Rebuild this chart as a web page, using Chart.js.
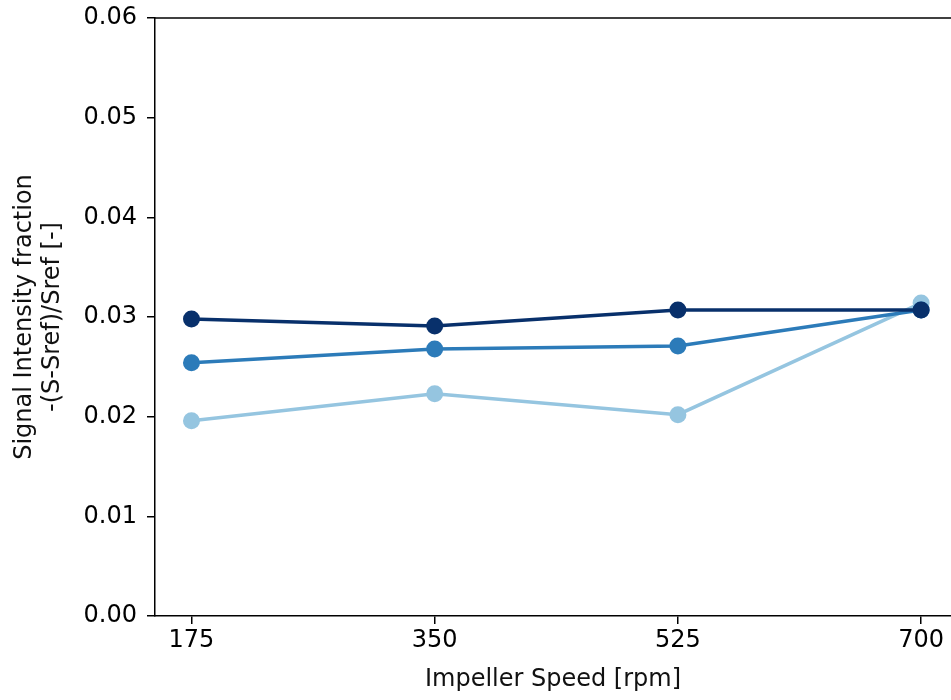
<!DOCTYPE html>
<html>
<head>
<meta charset="utf-8">
<script src="https://cdn.jsdelivr.net/npm/chart.js@4/dist/chart.umd.min.js"></script>
<style>
  html, body { margin: 0; padding: 0; background: #fff; overflow: hidden; }
  canvas { display: block; }
</style>
</head>
<body>
<canvas id="lineChart" width="951" height="700"></canvas>
<script>
// Data
const speeds = [175, 350, 525, 700];
const seriesDark = [0.0298, 0.0291, 0.0307, 0.0307];
const seriesMid = [0.0254, 0.0268, 0.0271, 0.0307];
const seriesLight = [0.0196, 0.0223, 0.0202, 0.0314];
const yTicks = [0, 0.01, 0.02, 0.03, 0.04, 0.05, 0.06];

const FONT = "'DejaVu Sans', sans-serif";

function makeSet(values, color) {
    return {
        data: speeds.map((s, i) => ({ x: s, y: values[i] })),
        borderColor: color,
        backgroundColor: color,
        borderWidth: 3.5,
        pointRadius: 8.5,
        pointHoverRadius: 8.5,
        pointBorderWidth: 0,
        tension: 0,
        fill: false
    };
}

// Draws the top spine of the frame
const topSpine = {
    id: 'topSpine',
    afterDraw(chart) {
        const a = chart.chartArea;
        const c = chart.ctx;
        c.save();
        c.strokeStyle = '#000';
        c.lineWidth = 1.5;
        c.beginPath();
        c.moveTo(a.left, a.top);
        c.lineTo(a.right, a.top);
        c.stroke();
        c.restore();
    }
};

const ctx = document.getElementById('lineChart').getContext('2d');
const lineChart = new Chart(ctx, {
    type: 'line',
    data: {
        // first dataset is painted last, so it sits on top
        datasets: [
            makeSet(seriesDark, '#08306b'),
            makeSet(seriesMid, '#2c7bb9'),
            makeSet(seriesLight, '#95c5e0')
        ]
    },
    plugins: [topSpine],
    options: {
        responsive: false,
        animation: false,
        layout: { autoPadding: false, padding: { top: 18, right: 0, left: 0, bottom: 0 } },
        plugins: {
            legend: { display: false },
            tooltip: { enabled: false }
        },
        scales: {
            x: {
                type: 'linear',
                min: 148.75,
                max: 721.5,
                afterBuildTicks: (scale) => { scale.ticks = speeds.map(v => ({ value: v })); },
                afterFit: (scale) => { scale.height = 84; scale.paddingRight = 0; scale.paddingLeft = 0; },
                grid: { display: true, drawOnChartArea: false, drawTicks: true, tickLength: 8, color: '#000', lineWidth: 1.5 },
                border: { color: '#000', width: 1.5 },
                ticks: {
                    color: '#000',
                    font: { family: FONT, size: 24 },
                    padding: 2,
                    maxRotation: 0,
                    autoSkip: false,
                    callback: (v) => String(v)
                },
                title: {
                    display: true,
                    text: 'Impeller Speed [rpm]',
                    color: '#111',
                    font: { family: FONT, size: 24 },
                    padding: { top: 0, bottom: 6 }
                }
            },
            y: {
                min: 0,
                max: 0.06,
                afterBuildTicks: (scale) => { scale.ticks = yTicks.map(v => ({ value: v })); },
                afterFit: (scale) => { scale.width = 155; scale.paddingTop = 0; scale.paddingBottom = 0; },
                grid: { display: true, drawOnChartArea: false, drawTicks: true, tickLength: 8, color: '#000', lineWidth: 1.5 },
                border: { color: '#000', width: 1.5 },
                ticks: {
                    color: '#000',
                    font: { family: FONT, size: 24 },
                    padding: 10,
                    callback: (v) => v.toFixed(2)
                },
                title: {
                    display: true,
                    text: ['Signal Intensity fraction', '-(S-Sref)/Sref [-]'],
                    color: '#111',
                    font: { family: FONT, size: 24, lineHeight: 1.2 },
                    padding: { top: 10, bottom: 0 }
                }
            }
        }
    }
});
</script>
</body>
</html>
